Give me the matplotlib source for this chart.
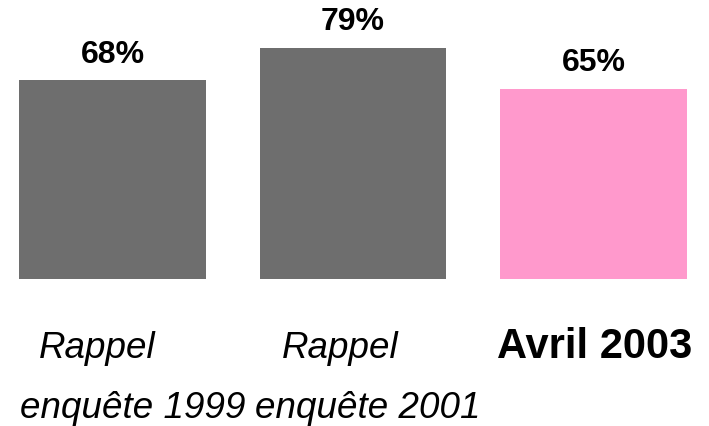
import matplotlib
matplotlib.use('Agg')
import matplotlib.pyplot as plt
import numpy as np

# data
values = [68, 79, 65]
labels_top = ['Rappel', 'Rappel', 'Avril 2003']
labels_bottom = ['enquête 1999', 'enquête 2001', '']
colors = ['#6e6e6e', '#6e6e6e', '#ff99cc']

plt.rcParams['font.family'] = ['Liberation Sans', 'DejaVu Sans']

W, H = 709, 427
fig = plt.figure(figsize=(W / 100, H / 100), dpi=100)
ax = fig.add_axes([0, 0, 1, 1])

index = np.arange(len(values))
ax.bar(index, values, width=0.775, color=colors)

# map axes so bars land where they do in the picture
px_x = 240.5
px_y = 2.93
ax.set_xlim(-112.5 / px_x, (W - 112.5) / px_x)
ax.set_ylim(-147 / px_y, (H - 147) / px_y)
ax.axis('off')

for i, v in enumerate(values):
    ax.text(i, v + 8.9, str(v) + '%', ha='center', va='center',
            fontsize=23, fontweight='bold')

# category labels under the bars
top_x = [97, 340, 595]
bot_x = [133, 368, 595]
for i in range(len(values)):
    if i == len(values) - 1:
        fig.text(top_x[i] / W, 1 - 358 / H, labels_top[i], ha='center',
                 va='baseline', fontsize=30, fontweight='bold')
    else:
        fig.text(top_x[i] / W, 1 - 358 / H, labels_top[i], ha='center',
                 va='baseline', fontsize=26.5, fontstyle='italic')
        fig.text(bot_x[i] / W, 1 - 418 / H, labels_bottom[i], ha='center',
                 va='baseline', fontsize=26.5, fontstyle='italic')

fig.savefig('out.png', dpi=100)
